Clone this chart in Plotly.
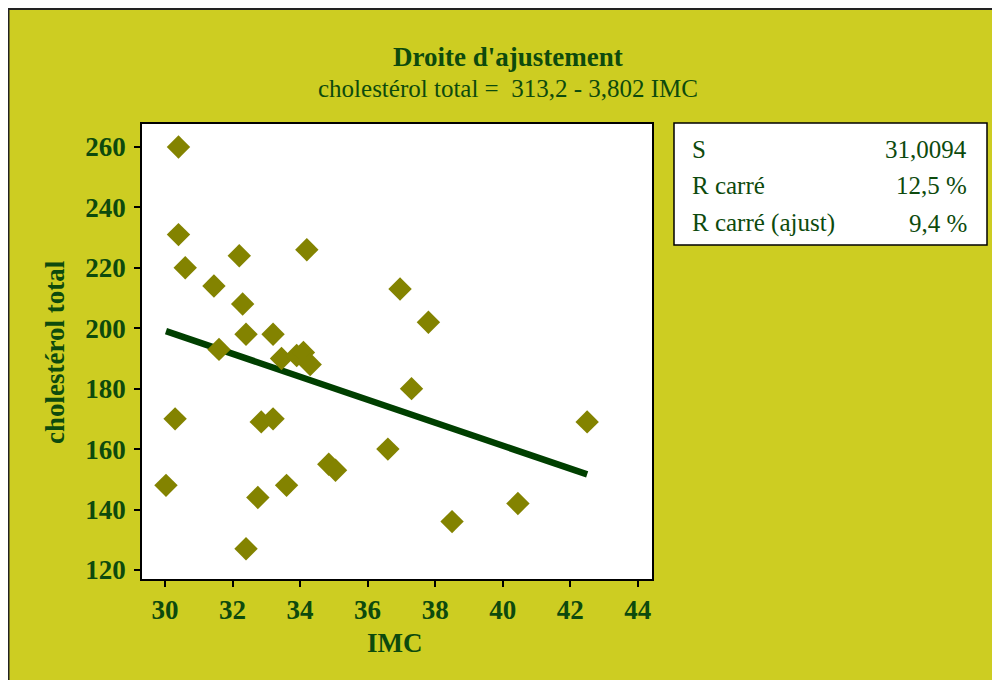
import plotly.graph_objects as go

# ---- data ----
imc = [30.4, 30.4, 30.6, 31.45, 32.2, 32.3, 31.6, 32.4, 33.2, 34.2,
       36.96, 37.8, 33.45, 33.9, 34.1, 34.3, 37.3, 30.3, 32.85, 33.2,
       42.5, 36.6, 34.85, 35.05, 30.03, 33.6, 32.75, 40.45, 38.5, 32.4]
chol = [260, 231, 220, 214, 224, 208, 193, 198, 198, 226,
        213, 202, 190, 191, 192, 188, 180, 170, 169, 170,
        169, 160, 155, 153, 148, 148, 144, 142, 136, 127]
intercept = 313.2
slope = -3.802
fit_x = [min(imc), max(imc)]
fit_y = [intercept + slope * v for v in fit_x]

x_ticks = [30, 32, 34, 36, 38, 40, 42, 44]
y_ticks = [120, 140, 160, 180, 200, 220, 240, 260]

stat_labels = ["S", "R carré", "R carré (ajust)"]
stat_values = ["31,0094", "12,5 %", "9,4 %"]

title = "Droite d'ajustement"
subtitle = "cholestérol total =  313,2 - 3,802 IMC"

# ---- layout geometry (screen pixels; page has an 8px body margin) ----
W, H = 1000, 680
OFF = 8
L, R, T, B = 142 - OFF, 652 - OFF, 124 - OFF, 579 - OFF
pw, ph = R - L, B - T


def PX(px):
    return (px - OFF - L) / pw


def PY(py):
    return (B - (py - OFF)) / ph


BG = "#CDCD22"
TXT = "#0D4A0D"
FONT = "Liberation Serif"

fig = go.Figure()
fig.add_trace(go.Scatter(
    x=fit_x, y=fit_y, mode="lines",
    line=dict(color="#003F00", width=6.5), showlegend=False, hoverinfo="skip"))
fig.add_trace(go.Scatter(
    x=imc, y=chol, mode="markers",
    marker=dict(symbol="diamond", size=18, color="#838300", line=dict(width=0)),
    showlegend=False))

axis_common = dict(
    showline=True, linecolor="black", linewidth=1.5, mirror=True,
    ticks="outside", ticklen=6, tickcolor="black", tickwidth=1.5,
    showgrid=False, zeroline=False,
    tickfont=dict(family=FONT, size=27, color=TXT, weight="bold"),
)

fig.update_xaxes(range=[29.32, 44.42], tickvals=x_ticks, **axis_common)
fig.update_yaxes(range=[117.0, 267.6], tickvals=y_ticks, ticklabelstandoff=3, **axis_common)


def ann(text, x, y, size, xanchor="center", **kw):
    return dict(text=text, x=PX(x), y=PY(y), xref="paper", yref="paper",
                xanchor=xanchor, yanchor="middle", showarrow=False,
                font=dict(family=FONT, size=size, color=TXT), **kw)


annotations = [
    ann(f"<b>{title}</b>", 508, 57, 27),
    ann(subtitle, 508, 88, 25),
    ann("<b>IMC</b>", 395, 643, 27),
    ann("<b>cholestérol total</b>", 55, 352, 27, textangle=-90),
]
row_y = [149, 186, 223]
for lab, val, ry in zip(stat_labels, stat_values, row_y):
    annotations.append(ann(lab, 690, ry, 25, xanchor="left"))
    annotations.append(ann(val, 969, ry, 25, xanchor="right"))

shapes = [
    # stats box
    dict(type="rect", xref="paper", yref="paper",
         x0=PX(674), x1=PX(987), y0=PY(245), y1=PY(123),
         fillcolor="white", line=dict(color="black", width=1.5), layer="below"),
    # dark frame at the figure's top and left edges
    dict(type="line", xref="paper", yref="paper",
         x0=PX(8), x1=PX(1010), y0=PY(9), y1=PY(9),
         line=dict(color="#222222", width=2)),
    dict(type="line", xref="paper", yref="paper",
         x0=PX(8.5), x1=PX(8.5), y0=PY(8), y1=PY(690),
         line=dict(color="#222222", width=2)),
]

fig.update_layout(
    width=W, height=H, autosize=False,
    margin=dict(l=L, r=W - R, t=T, b=H - B, pad=0),
    paper_bgcolor=BG, plot_bgcolor="white",
    annotations=annotations, shapes=shapes,
    font=dict(family=FONT, color=TXT),
)

fig.write_html("out.html")
